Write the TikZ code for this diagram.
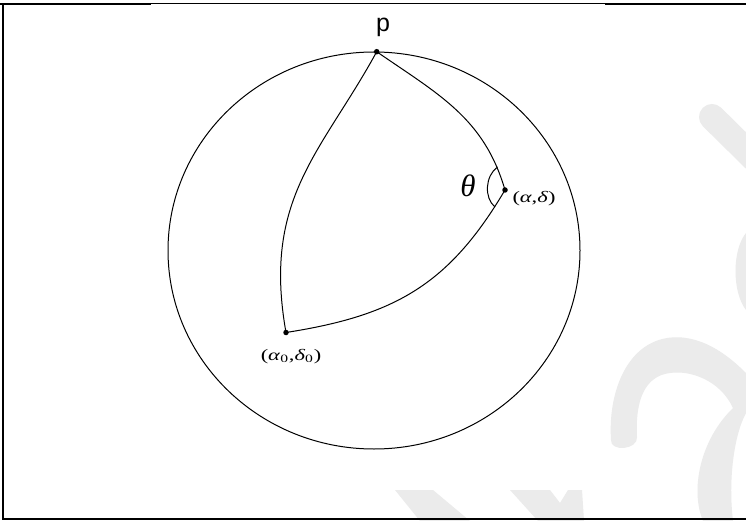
\documentclass[tikz,border=0pt]{standalone}
\usepackage{graphicx}
\usepackage{fontspec}
\newfontfamily\sansp{Liberation Sans}
\newfontfamily\serifg{Liberation Serif}
\begin{document}
\begin{tikzpicture}[x=1pt,y=-1pt,
  dot/.style={circle,fill=black,inner sep=0pt,minimum size=5.5pt},
  curveline/.style={line width=1pt,black},
  framethick/.style={line width=2.2pt,black},
  framethin/.style={line width=1.1pt,black},
  wm/.style={fill=gray!16,draw=none},
  lbl/.style={inner sep=0pt}]
\useasboundingbox (0,0) rectangle (746,521);
\fill[white] (0,0) rectangle (746,521);
% watermark shapes
\begin{scope}
\clip (0,0) rectangle (746,521);
\draw[gray!16,line width=26pt,line cap=round] (712,117) -- (780,184);
\fill[wm] (746,233) .. controls (732,250) and (732,292) .. (746,310) -- cycle;
\fill[wm] (611,440) .. controls (608,395) and (625,345) .. (667,338)
  .. controls (700,333) and (728,355) .. (746,373) -- (746,413)
  .. controls (734,435) and (728,480) .. (733,521) -- (703,521)
  .. controls (690,490) and (700,440) .. (733,408)
  .. controls (720,380) and (690,370) .. (670,373)
  .. controls (645,376) and (635,400) .. (637,437)
  .. controls (638,450) and (610,452) .. (611,440) -- cycle;
\fill[wm] (395,490) -- (433,490) -- (470,521) -- (420,521) -- cycle;
\fill[wm] (510,490) -- (550,490) -- (560,503) -- (568,490) -- (582,490) -- (584,521) -- (538,521) -- cycle;
\end{scope}
% frame
\draw[framethick] (3,3.3) -- (3,520);
\draw[framethick] (2,519) -- (746,519);
\draw[framethick] (0,4.4) -- (151,4.4);
\draw[framethin] (151,3.9) -- (605,3.9);
\draw[framethick] (605,4.4) -- (746,4.4);
% sphere
\draw[curveline] (374,250.5) ellipse [x radius=206, y radius=198.5];
% points
\node[dot] (p) at (376.7,51.7) {};
\node[dot] (A) at (505,190) {};
\node[dot] (B) at (286,332.5) {};
% great-circle arcs
\draw[curveline] (p.center) .. controls (439,94.7) and (484,118) .. (A.center);
\draw[curveline] (p.center) .. controls (322,152) and (262,198) .. (B.center);
\draw[curveline] (A.center) .. controls (449,284.6) and (395,315.5) .. (B.center);
% angle mark
\coordinate (t1) at (497.5,167);
\coordinate (t2) at (495,207);
\draw[curveline] (t1) .. controls (485,176) and (484,198) .. (t2);
% labels
\node[lbl,anchor=base] (pl) at (383,31.5) {\fontsize{25}{25}\selectfont\sansp p};
\node[lbl] (th) at (468,186) {\fontsize{31}{31}\selectfont\serifg\itshape θ};
\node[lbl] (al) at (534,198.5) {\scalebox{1.4}[1]{\fontsize{16}{16}\selectfont\serifg (\textit{α},\textit{δ})}};
\node[lbl] (al0) at (291,356.5) {\scalebox{1.4}[1]{\fontsize{16}{16}\selectfont\serifg (\textit{α}\textsubscript{0},\textit{δ}\textsubscript{0})}};
\end{tikzpicture}
\end{document}
